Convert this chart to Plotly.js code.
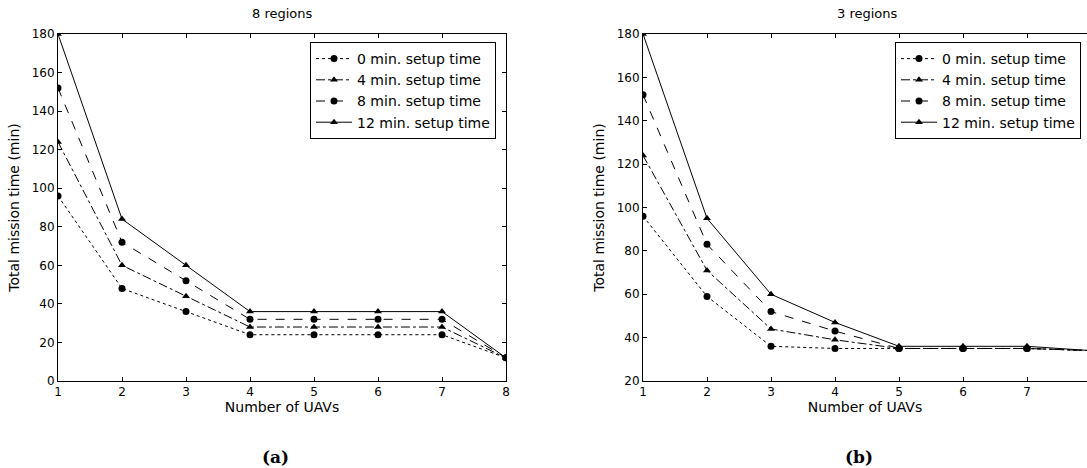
<!DOCTYPE html>
<html><head><meta charset="utf-8">
<script src="https://cdn.plot.ly/plotly-3.0.1.min.js"></script>
<style>body{margin:0;padding:0;background:#fff}#chart{width:1087px;height:468px}</style>
</head><body><div id="chart"></div>
<script>
const uavs = [1, 2, 3, 4, 5, 6, 7, 8];
const seriesNames = ['0 min. setup time', '4 min. setup time', '8 min. setup time', '12 min. setup time'];
// 8 regions
const a_0 = [96, 48, 36, 24, 24, 24, 24, 12];
const a_4 = [124, 60, 44, 28, 28, 28, 28, 12];
const a_8 = [152, 72, 52, 32, 32, 32, 32, 12];
const a_12 = [180, 84, 60, 36, 36, 36, 36, 12];
// 3 regions
const b_0 = [96, 59, 36, 35, 35, 35, 35, 34];
const b_4 = [124, 71, 44, 39, 35, 35, 35, 34];
const b_8 = [152, 83, 52, 43, 35, 35, 35, 34];
const b_12 = [180, 95, 60, 47, 36, 36, 36, 34];
const leftTicks = [0, 20, 40, 60, 80, 100, 120, 140, 160, 180];
const rightTicks = [20, 40, 60, 80, 100, 120, 140, 160, 180];
const xTicks = [1, 2, 3, 4, 5, 6, 7, 8];

const styles = [
  {dash: 'dot', symbol: 'circle'},
  {dash: 'dashdot', symbol: 'triangle-up'},
  {dash: 'dash', symbol: 'circle'},
  {dash: 'solid', symbol: 'triangle-up'}
];

const traces = [];
[a_0, a_4, a_8, a_12].forEach((ys, i) => {
  traces.push({x: uavs, y: ys, xaxis: 'x', yaxis: 'y', name: seriesNames[i], legend: 'legend',
    mode: 'lines+markers', line: {color: 'black', width: 1, dash: styles[i].dash},
    marker: {color: 'black', size: 7, symbol: styles[i].symbol}});
});
[b_0, b_4, b_8, b_12].forEach((ys, i) => {
  traces.push({x: uavs, y: ys, xaxis: 'x2', yaxis: 'y2', name: seriesNames[i], legend: 'legend2',
    mode: 'lines+markers', line: {color: 'black', width: 1, dash: styles[i].dash},
    marker: {color: 'black', size: 7, symbol: styles[i].symbol}});
});

const axFont = {family: 'DejaVu Sans', size: 12, color: 'black'};
const titleFont = {family: 'DejaVu Sans', size: 14, color: 'black'};
function xax(domain, range, mirror) {
  return {domain: domain, range: range, tickvals: xTicks, ticks: 'inside', ticklen: 4, tickcolor: 'black',
    showline: true, linecolor: 'black', linewidth: 1, mirror: mirror, showgrid: false, zeroline: false,
    tickfont: axFont, title: {text: 'Number of UAVs', font: titleFont, standoff: 2}};
}
function yax(range, ticks, anchor, mirror) {
  return {domain: [0.1859, 0.92735], range: range, tickvals: ticks, ticks: 'inside', ticklen: 4, tickcolor: 'black',
    showline: true, linecolor: 'black', linewidth: 1, mirror: mirror, showgrid: false, zeroline: false,
    anchor: anchor, tickfont: axFont, title: {text: 'Total mission time (min)', font: titleFont, standoff: 8}};
}
const legStyle = (x) => ({x: x, y: 1 - 42/468, xanchor: 'left', yanchor: 'top', xref: 'paper', yref: 'paper',
  bordercolor: 'black', borderwidth: 1, bgcolor: 'white',
  font: {family: 'DejaVu Sans', size: 14, color: 'black'}, tracegroupgap: 0, itemwidth: 36});

function note(text, px, py, font) {
  return {text: text, x: px/1087, y: 1 - py/468, xref: 'paper', yref: 'paper', showarrow: false,
    xanchor: 'center', yanchor: 'middle', font: font};
}
const capTitle = {family: 'DejaVu Sans', size: 13, color: 'black'};
const capFont = {family: 'DejaVu Serif', size: 17, color: 'black'};

const layout = {
  width: 1087, height: 468, margin: {l: 0, r: 0, t: 0, b: 0},
  paper_bgcolor: 'white', plot_bgcolor: 'white', showlegend: true,
  xaxis: xax([58/1087, 506/1087], [1, 8], 'allticks'),
  yaxis: yax([0, 180], leftTicks, 'x', 'allticks'),
  xaxis2: Object.assign(xax([643/1087, 1], [1, 7.9375], 'ticks'), {anchor: 'y2'}),
  yaxis2: yax([20, 180], rightTicks, 'x2', false),
  legend: legStyle(310/1087),
  legend2: legStyle(895/1087),
  annotations: [
    note('8 regions', 282, 13, capTitle),
    note('3 regions', 867, 13, capTitle),
    note('<b>(a)</b>', 275, 457, capFont),
    note('<b>(b)</b>', 859, 457, capFont)
  ]
};
Plotly.newPlot('chart', traces, layout, {staticPlot: true, displayModeBar: false});
</script></body></html>
